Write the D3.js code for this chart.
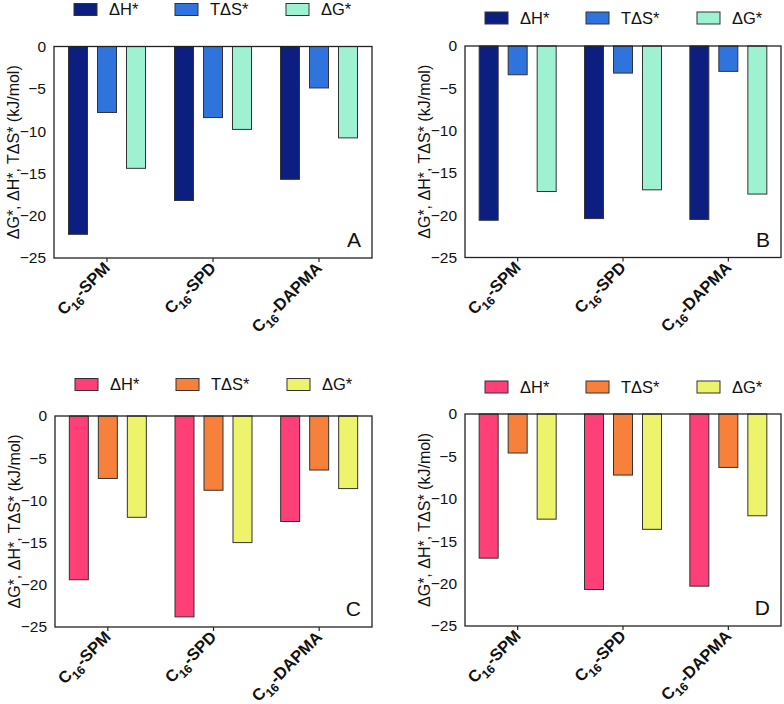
<!DOCTYPE html>
<html>
<head>
<meta charset="utf-8">
<script src="https://cdn.jsdelivr.net/npm/d3@7"></script>
<style>
    body { margin: 0; background: #fff; }
    text { font-family: "Liberation Sans", Arial, sans-serif; fill: #111; }
</style>
</head>
<body>
<div id="chart"></div>
<script>
// categories and series
const categories = ["SPM", "SPD", "DAPMA"];
const seriesNames = ["ΔH*", "TΔS*", "ΔG*"];
const yTicks = [0, -5, -10, -15, -20, -25];
const panelLetters = ["A", "B", "C", "D"];

// values (kJ/mol)
const dH_A = [-22.2, -18.2, -15.7];
const tS_A = [-7.8, -8.4, -4.9];
const dG_A = [-14.4, -9.8, -10.8];

const dH_B = [-20.6, -20.4, -20.5];
const tS_B = [-3.4, -3.2, -3.0];
const dG_B = [-17.2, -17.0, -17.5];

const dH_C = [-19.4, -23.8, -12.5];
const tS_C = [-7.4, -8.8, -6.4];
const dG_C = [-12.0, -15.0, -8.6];

const dH_D = [-17.0, -20.7, -20.3];
const tS_D = [-4.6, -7.2, -6.3];
const dG_D = [-12.4, -13.6, -12.0];

const blueColors = ["#0c1f80", "#2f74dc", "#9ff2d1"];
const warmColors = ["#ff3f78", "#f7803b", "#edf46c"];

const width = 784, height = 704;

const svg = d3.select("#chart").append("svg")
    .attr("width", width)
    .attr("height", height);

// panel boxes
let panels = [
    {left: 54, right: 372, top: 46.5, bottom: 258, legendTop: 3.5, colors: blueColors, data: [dH_A, tS_A, dG_A]},
    {left: 465, right: 781, top: 46, bottom: 257.5, legendTop: 12, colors: blueColors, data: [dH_B, tS_B, dG_B]},
    {left: 55, right: 372, top: 416, bottom: 627, legendTop: 378.5, colors: warmColors, data: [dH_C, tS_C, dG_C]},
    {left: 465, right: 781, top: 414, bottom: 626, legendTop: 381, colors: warmColors, data: [dH_D, tS_D, dG_D]}
];

let legendOffsets = [20, 121, 232];

panels.forEach(function(p, pi) {
    let g = svg.append("g");

    let x = d3.scaleBand()
        .domain(categories)
        .range([p.left, p.right])
        .padding(0);

    let xInner = d3.scaleBand()
        .domain(seriesNames)
        .range([-38.5, 38.5])
        .paddingInner(0.345)
        .paddingOuter(0);

    let y = d3.scaleLinear()
        .domain([-25, 0])
        .range([p.bottom, p.top]);

    // bars
    seriesNames.forEach(function(s, si) {
        g.selectAll(".bar" + si)
            .data(p.data[si])
            .enter()
            .append("rect")
            .attr("class", "bar" + si)
            .attr("x", (d, i) => x(categories[i]) + x.bandwidth() / 2 + xInner(s))
            .attr("y", y(0))
            .attr("width", xInner.bandwidth())
            .attr("height", d => y(d) - y(0))
            .style("fill", p.colors[si])
            .style("stroke", "#333")
            .style("stroke-width", 1);
    });

    // frame
    g.append("rect")
        .attr("x", p.left)
        .attr("y", p.top)
        .attr("width", p.right - p.left)
        .attr("height", p.bottom - p.top)
        .style("fill", "none")
        .style("stroke", "#222")
        .style("stroke-width", 1.3);

    // y axis
    let yAxis = g.append("g")
        .attr("transform", `translate(${p.left},0)`)
        .call(d3.axisLeft(y).tickValues(yTicks).tickSize(0).tickPadding(8));
    yAxis.select(".domain").remove();
    yAxis.selectAll("text")
        .style("font-size", "15.5px")
        .style("font-family", "'Liberation Sans', Arial, sans-serif")
        .attr("fill", "#111");

    // x axis ticks
    let xAxis = g.append("g")
        .attr("transform", `translate(0,${p.bottom})`)
        .call(d3.axisBottom(x).tickSize(4).tickFormat(""));
    xAxis.select(".domain").remove();
    xAxis.selectAll("line").attr("stroke", "#222").attr("stroke-width", 1.2);

    // rotated category labels
    categories.forEach(function(c) {
        let t = g.append("text")
            .attr("transform", `translate(${x(c) + x.bandwidth() / 2 + 4},${p.bottom + 11}) rotate(-45)`)
            .attr("text-anchor", "end")
            .style("font-size", "16.5px")
            .style("font-weight", "bold");
        t.append("tspan").text("C");
        t.append("tspan").attr("dy", 5).style("font-size", "12px").text("16");
        t.append("tspan").attr("dy", -5).text("-" + c);
    });

    // y label
    g.append("text")
        .attr("transform", `translate(${p.left - 35},${(p.top + p.bottom) / 2}) rotate(-90)`)
        .attr("text-anchor", "middle")
        .style("font-size", "16px")
        .text("ΔG*, ΔH*, TΔS* (kJ/mol)");

    // panel letter
    g.append("text")
        .attr("x", p.right - 11)
        .attr("y", p.bottom - 11)
        .attr("text-anchor", "end")
        .style("font-size", "21px")
        .text(panelLetters[pi]);

    // legend
    seriesNames.forEach(function(s, si) {
        let lx = p.left + legendOffsets[si];
        g.append("rect")
            .attr("x", lx)
            .attr("y", p.legendTop)
            .attr("width", 23)
            .attr("height", 12)
            .style("fill", p.colors[si])
            .style("stroke", "#333")
            .style("stroke-width", 1);
        g.append("text")
            .attr("x", lx + 35)
            .attr("y", p.legendTop + 6)
            .attr("dy", "0.36em")
            .style("font-size", "16.5px")
            .text(s);
    });
});
</script>
</body>
</html>
